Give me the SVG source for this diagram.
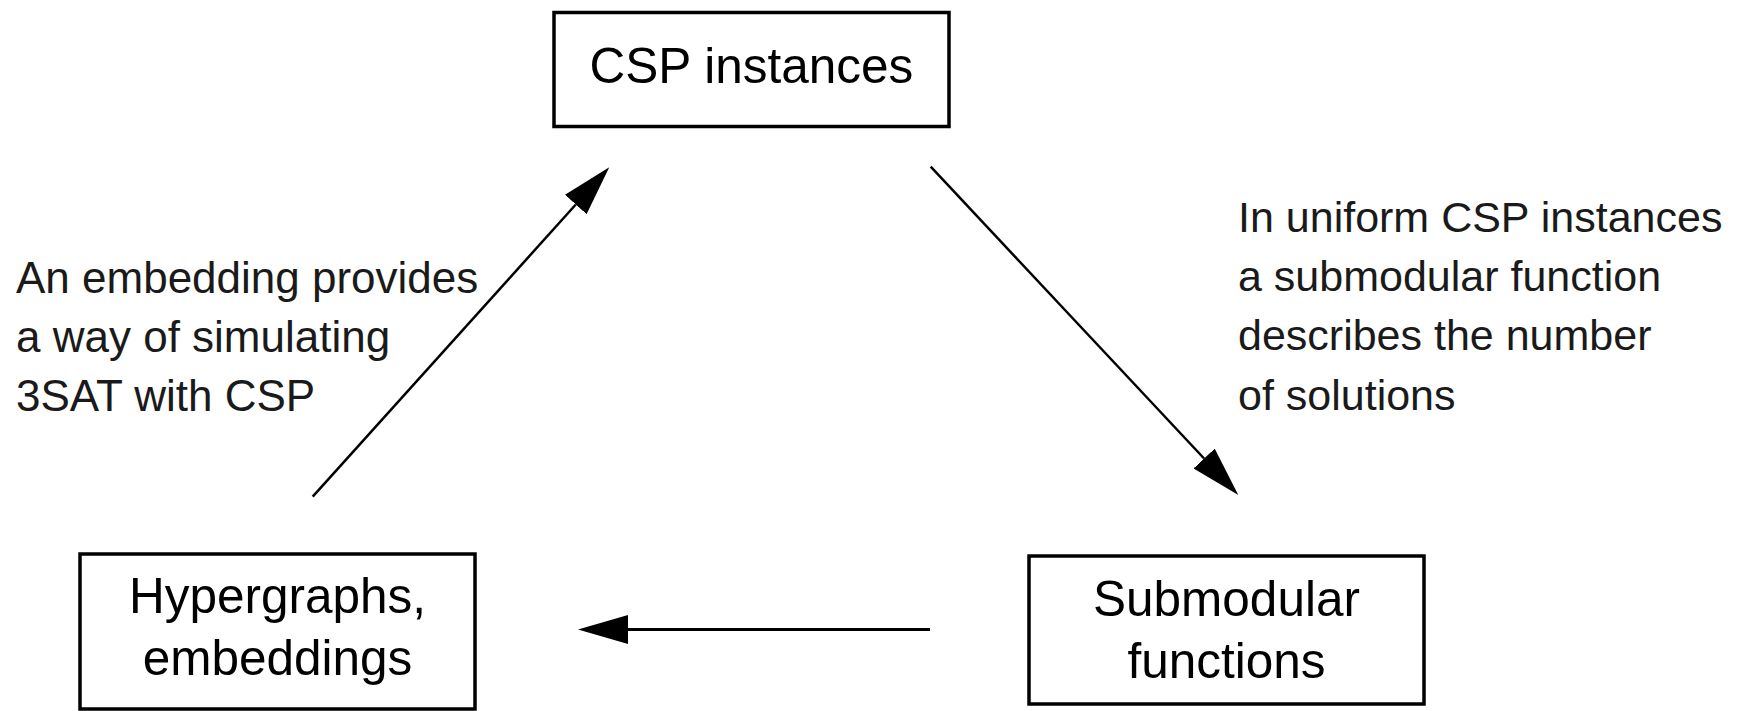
<svg xmlns="http://www.w3.org/2000/svg" width="1746" height="711" viewBox="0 0 1746 711">
<style>
.box{fill:#fff;stroke:#000;stroke-width:3.5}
.nt{font-family:"Liberation Sans",Arial,sans-serif;font-size:49.5px;fill:#000;text-anchor:middle}
.lb{font-family:"Liberation Sans",Arial,sans-serif;font-size:43px;fill:#1a1a1a}
.lbl{font-size:44px}
.edge{stroke:#000;fill:none;marker-end:url(#ah)}
</style>
<defs>
<marker id="ah" viewBox="0 0 50 29" markerWidth="50" markerHeight="29" refX="0" refY="14.5" orient="auto" markerUnits="userSpaceOnUse">
<path d="M0,0 L50,14.5 L0,29 z" fill="#000"/>
</marker>
</defs>
<rect width="1746" height="711" fill="#fff"/>
<g id="csp">
<rect class="box" x="554" y="12.5" width="395" height="114"/>
<text class="nt" x="751.5" y="83">CSP instances</text>
</g>
<g id="hyper">
<rect class="box" x="80" y="554" width="395" height="155"/>
<text class="nt" x="277.5" y="613">Hypergraphs,</text>
<text class="nt" x="277.5" y="675">embeddings</text>
</g>
<g id="submod">
<rect class="box" x="1029" y="556" width="395" height="148"/>
<text class="nt" x="1226.5" y="616">Submodular</text>
<text class="nt" x="1226.5" y="678">functions</text>
</g>
<g id="connectors">
<line class="edge" x1="930.7" y1="166.7" x2="1204.1" y2="458.5" stroke-width="2.5"/>
<line class="edge" x1="930" y1="629.5" x2="628" y2="629.5" stroke-width="3"/>
<line class="edge" x1="312.7" y1="496.7" x2="575.8" y2="204.5" stroke-width="2.5"/>
</g>
<g id="labels">
<text class="lb lbl" x="16" y="293">An embedding provides</text>
<text class="lb lbl" x="16" y="352">a way of simulating</text>
<text class="lb lbl" x="16" y="411">3SAT with CSP</text>
<text class="lb" x="1238" y="231.5">In uniform CSP instances</text>
<text class="lb" x="1238" y="291">a submodular function</text>
<text class="lb" x="1238" y="350">describes the number</text>
<text class="lb" x="1238" y="410">of solutions</text>
</g>
</svg>
